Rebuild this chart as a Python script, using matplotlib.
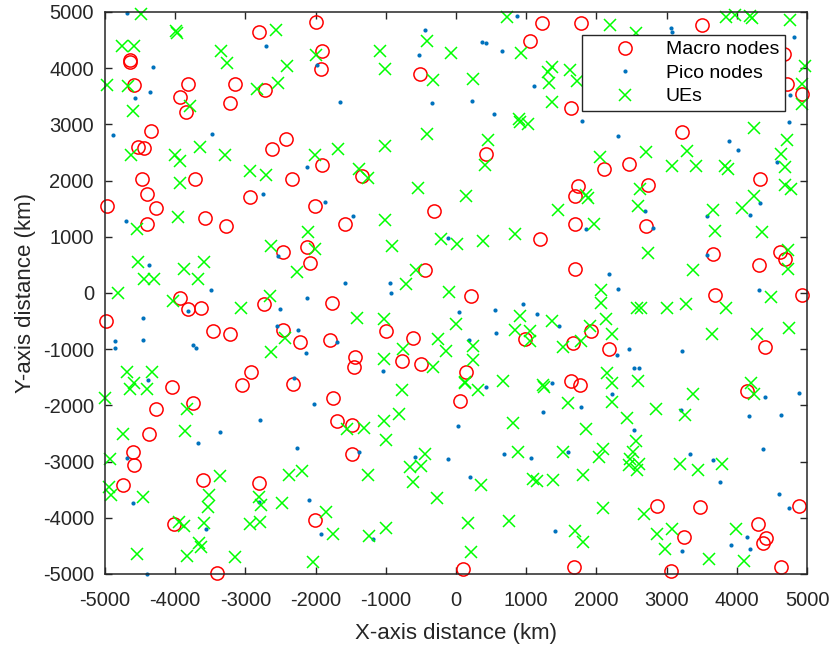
import matplotlib
matplotlib.use('Agg')
import matplotlib.pyplot as plt

# positions (km)
macro_x = [-1995, -2800, -4650, -4645, -1905, -1929, -4581, -3819, -3152, -2714, -3938, -3214,
           -3843, -4348, -4533, -4438, -2415, -2619, -1905, -4467, -3724, -2343, -4395, -2940,
           1227, 1061, -518, 1640, 423, -1345, 1735, 1690, 1776,
           3508, 4670, 4714, 4931, 3225, 2104, 2468, 4326, 2728,
           -4967, -4276, -4395, -3571, -3271, -2014, -2462, -2129, -2086, -3929, -3819, -3638,
           -4990, -2738, -3467, -3224, -2462, -2229, -1760, -1790, -2914, -3055, -4050, -2320,
           -1577, -310, 1203, -447, 220, -995, -612, 976, -1435, -1459, -773, -494, 149,
           1690, 1700, 1670, 1640,
           2704, 3664, 4312, 4619, 4681, 3688, 4927, 1924, 2175, 4397, 1764,
           -1752, -1690, -3748, -4276, -4376, -4605, -4581, -4748, -3610, -2800, -4024, -2014, -3405,
           54, -1487, -1487, 102, 1680,
           4151, 2861, 3480, 4884, 4307, 3248, 4421, 4374, 3064, 4624]
macro_y = [4823, 4646, 4140, 4110, 4304, 3991, 3702, 3726, 3726, 3608, 3496, 3378,
           3212, 2888, 2593, 2575, 2740, 2563, 2280, 2021, 2021, 2021, 1760, 1700,
           4799, 4481, 3903, 3289, 2481, 2080, 1905, 1720, 4800,
           4764, 4245, 3726, 3549, 2858, 2198, 2298, 2021, 1914,
           1554, 1518, 1232, 1339, 1196, 1548, 732, 821, 530, -89, -292, -262,
           -500, -202, -679, -726, -661, -875, -173, -830, -1405, -1630, -1680, -1620,
           1226, 1452, 958, 411, -54, -679, -792, -827, -1143, -1315, -1208, -1256, -1405,
           1226, 435, -887, -1571,
           1196, 702, 494, 732, 613, -36, -36, -679, -994, -964, -1640,
           -1863, -2280, -1952, -2071, -2506, -2827, -3060, -3411, -3321, -3387, -4113, -4036, -4988,
           -1929, -2357, -2857, -4911, -4870,
           -1745, -3792, -3816, -3792, -4107, -4344, -4362, -4457, -4950, -4872]

pico_x = [-4690, -2705, -4310, -1976, -4357, -4571, -4881, -3476, -2119, -2743,
          -447, 376, 428, 655, 868, -532, 1104, -1648, -343, 229, 541,
          3064, 3083, 4809, 4752, 4742, 2307, 3887, 4019, 4577, 1797,
          -1867, -4705, -2533, -4371, -3490, -2129, -2500, -3819, -4452, -2548, -2257, -4852,
          -4852, -4452, -3752, -3705, -2133, -4390, -2310,
          -1473, -116, -1582, -943, -924, 40, 551, 948, 1156, 1473, 574, 191, -1700, -1033, 1364,
          4326, 2686, 3570, 4184, 1853, 2813, 3570, 2184, 2307, 4317, 2293, 2459, 3225, 2530, 2610,
          -2024, -2790, -3367, -3681, -2271, -4681, -4605, -2810, -2090, -3562, -1924, -4405,
          423, 1236, 31, -1388, -579, -111, 678, 1071, 1600, 196, -1189, 1416,
          2222, 1787, 3210, 2539, 4402, 4889, 4175, 4624, 4369, 3333, 3655, 3759, 4600, 4738,
          4142, 4189, 3924, 3225]
pico_y = [4980, 4392, 4020, 4056, 3584, 3466, 2817, 2829, 2239, 1755,
          4676, 4469, 4457, 4310, 4935, 4227, 3684, 3395, 3378, 3419, 3177,
          4717, 4646, 4552, 3525, 3035, 2788, 2699, 2552, 2327, 3053,
          1625, 1286, 661, 494, 60, -95, -280, -327, -452, -589, -655, -857,
          -982, -845, -923, -982, -1060, -1542, -1512,
          1375, 976, 185, 173, 0, -333, -304, -202, -381, -583, -720, -833, -875, -1393, -1601,
          1601, 1464, 1375, 1387, 1143, 1155, 679, 339, 71, 48, -1095, -1000, -1024, -1327, -1327,
          -1970, -2256, -2482, -2667, -2762, -2940, -3732, -3726, -3685, -4202, -4292, -5000,
          -1673, -2125, -2369, -2833, -2917, -2958, -2863, -2935, -2833, -3274, -4375, -4238,
          -1792, -2030, -2089, -2439, -1852, -1774, -2196, -2166, -2783, -2872, -2979, -3365, -3573, -3822,
          -4350, -4552, -4481, -4593]

ue_x = [-4481, -3990, -3970, -2562, -4752, -4581, -3348, -3262, -2405, -1990, -4976, -4676,
        -2538, -2838, -4605, -3795, -3652, -4629, -4000, -3938, -3286, -2014, -1680, -2938,
        -2705, -3938,
        726, -413, -1085, -78, 929, -1014, -324, 243, 1364, 1317, 1620, 1326, 1369, 891,
        915, 1024, -413, -1014, 452, 419, -1378, -1251, -541, 149,
        2199, 2563, 3853, 3981, 4184, 4222, 4761, 1720, 4965, 4927, 4927, 4246, 4719, 4634,
        4681, 2057, 2709, 3296, 3073, 3423, 3830, 3877, 2624, 1858, 4246, 4681, 4776,
        -3962, -4548, -2105, -2638, -2010, -4524, -3881, -3586, -4443, -4300, -3676, -2262,
        -4810, -4033, -2643, -3057, -2429, -2638, -4690, -4324,
        1459, -1014, -905, -210, 17, 381, 844, -574, -716, -102, -1411, -1024, -7, 905, 835,
        1047, 1047, 1364, 1530, -258, -749, -149, 243, 243, -1024, -329, 669, 135, 1246,
        1877, 2591, 1972, 3664, 4080, 3688, 4359, 2728, 4728, 4728, 3371, 2066, 2066, 2577,
        2634, 3002, 3277, 3853, 4492, 2137, 1915, 2222, 1787, 3641, 4288, 4742, 2151, 2222,
        2591, 4199,
        -4643, -4581, -4405, -5000, -3833, -4738, -3857, -4929, -4938, -4919, -4462, -3367,
        -3514, -3538, -3586, -3952, -3871, -3667, -3629, -3833, -4548, -3143, -2810, -2771,
        -2476, -2381, -2200, -2929, -2795, -1852, -1748, -2033,
        -773, 125, 310, 1251, 1589, -811, -1024, -1553, -1317, -991, -442, -660, -494, -608,
        -1251, -267, 362, 811, 882, 1530, 1090, 1147, 1388, -1246, -991, 172, 749, 220,
        2222, 3371, 4246, 2846, 2435, 3262, 1858, 2563, 2090, 2033, 2515, 2482, 2459, 2600,
        2577, 3191, 3442, 3783, 1811, 2090, 2681, 1700, 1811, 2870, 3073, 2979, 3603, 3995, 4104]
ue_y = [4970, 4660, 4630, 4676, 4392, 4392, 4304, 4097, 4038, 4227, 3696, 3684,
        3732, 3625, 3242, 3319, 2593, 2463, 2463, 2357, 2457, 2457, 2563, 2162,
        2103, 1962,
        4911, 4481, 4304, 4274, 4274, 3991, 3785, 3808, 4021, 3932, 3970, 3732, 3407, 3094,
        3035, 3006, 2829, 2622, 2723, 2280, 2198, 2050, 1860, 1720,
        4764, 4628, 4911, 4953, 4923, 4894, 4864, 3780, 4038, 3714, 3360, 2935, 2723, 2475,
        2239, 2416, 2504, 2534, 2268, 2257, 2268, 2198, 1844, 1737, 1720, 1914, 1855,
        1345, 1137, 1077, 839, 780, 554, 435, 554, 256, 256, 256, 375,
        -6, -149, -54, -268, -798, -1054, -1405, -1405,
        1482, 1304, 839, 958, 869, 929, 1048, 411, 167, 24, -440, -470, -560, -411, -667,
        -679, -857, -500, -964, -815, -994, -1024, -946, -1185, -1167, -1315, -1560, -1590, -1630,
        1685, 1542, 1226, 1482, 1506, 1107, 1077, 720, 762, 435, 405, 48, -173, -262,
        -262, -274, -202, -274, -65, -470, -589, -738, -857, -726, -738, -619, -1423, -1610,
        -1570, -1600,
        -1714, -1607, -1702, -1875, -2060, -2506, -2458, -2946, -3452, -3601, -3631, -3262,
        -3589, -3815, -4095, -4083, -4143, -4440, -4512, -4673, -4643, -4702, -3631, -3768,
        -3738, -3232, -3173, -4107, -4083, -3905, -4286, -4792,
        -1726, -1607, -1732, -1667, -1952, -2161, -2280, -2429, -2399, -2607, -2857, -3095, -3071, -3363,
        -3244, -3649, -3423, -2310, -2833, -2833, -3304, -3351, -3333, -4321, -4173, -4095, -4054, -4607,
        -1935, -1804, -1804, -2071, -2220, -2172, -2427, -2635, -2772, -2914, -2831, -2950, -3068, -3050,
        -3151, -3039, -3151, -3039, -3240, -3822, -3935, -4235, -4427, -4285, -4196, -4552, -4730, -4196, -4777]

ticks = list(range(-5000, 5001, 1000))

plt.rcParams['font.family'] = ['Liberation Sans', 'DejaVu Sans']
plt.rcParams['axes.unicode_minus'] = False
ink = '#262626'

fig = plt.figure(figsize=(8.3, 6.45), dpi=100)
ax = fig.add_axes([0.1265, 0.1101, 0.8458, 0.8713])

ax.plot(macro_x, macro_y, linestyle='none', marker='o', markersize=9.5, markerfacecolor='none',
        markeredgecolor='#ff0000', markeredgewidth=1.1, clip_on=False, label='Macro nodes')
ax.plot(pico_x, pico_y, linestyle='none', marker='o', markersize=3.0, color='#0072bd',
        markeredgewidth=0, clip_on=False, label='Pico nodes')
ax.plot(ue_x, ue_y, linestyle='none', marker='x', markersize=8.6, color='#00ff00',
        markeredgewidth=1.1, clip_on=False, label='UEs')

ax.set_xlim(-5000, 5000)
ax.set_ylim(-5000, 5000)
ax.set_xticks(ticks)
ax.set_yticks(ticks)
ax.tick_params(direction='in', length=5, width=1.0, colors=ink, labelsize=14.5,
               top=True, right=True)
ax.tick_params(axis='x', pad=12.5)
ax.tick_params(axis='y', pad=8)
for s in ax.spines.values():
    s.set_color(ink)
    s.set_linewidth(1.1)

ax.set_xlabel('X-axis distance (km)', fontsize=16, color=ink, labelpad=9)
ax.set_ylabel('Y-axis distance (km)', fontsize=16, color=ink, labelpad=5)

leg = ax.legend(loc='upper right', bbox_to_anchor=(0.9687, 0.959), borderaxespad=0,
                fontsize=14, numpoints=1, fancybox=False, framealpha=1, edgecolor=ink,
                handlelength=3.8, handletextpad=0.2, borderpad=0.3, labelspacing=0.3)
leg.get_frame().set_linewidth(1.0)
for t in leg.get_texts():
    t.set_color('black')

fig.savefig('out.png', dpi=100)
